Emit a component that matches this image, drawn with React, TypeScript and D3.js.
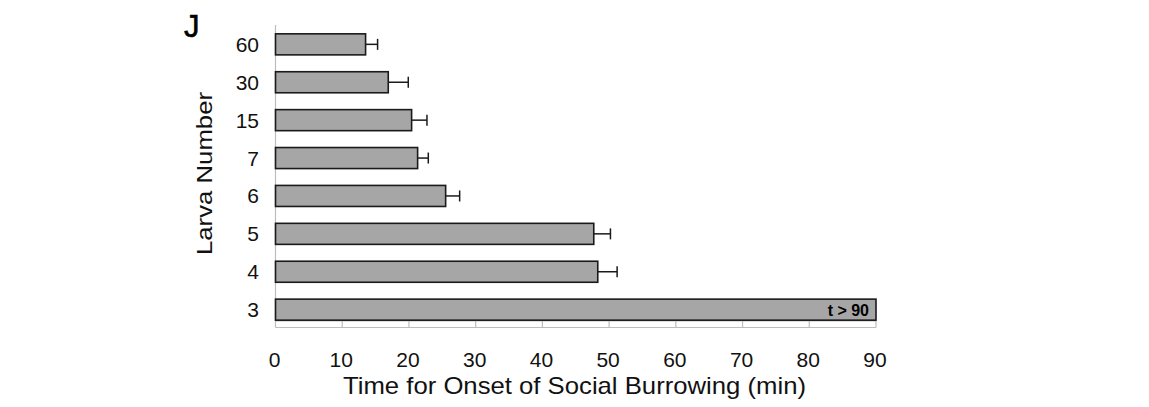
import React from "react";
import * as d3 from "d3";

const categories = ["60", "30", "15", "7", "6", "5", "4", "3"];
const meanValues = [13.5, 16.9, 20.4, 21.3, 25.5, 47.7, 48.3, 90];
const errorValues = [1.8, 3.0, 2.3, 1.6, 2.1, 2.5, 2.9, 0];
const xTicks = [0, 10, 20, 30, 40, 50, 60, 70, 80, 90];
const panelLabel = "J";
const xTitle = "Time for Onset of Social Burrowing (min)";
const yTitle = "Larva Number";
const censoredLabel = "t > 90";

const W = 1149;
const H = 407;
const FONT = "'Liberation Sans', Arial, sans-serif";

export default function App() {
  const x = d3.scaleLinear().domain([0, 90]).range([275.5, 876]);
  const y = d3
    .scaleBand<string>()
    .domain(categories)
    .range([25.4, 328.6])
    .paddingInner(0.445)
    .paddingOuter(0.2225);
  const axisY = 321;
  const axisColor = "#bdbdbd";

  return (
    <svg
      width={W}
      height={H}
      style={{ position: "absolute", left: 0, top: 0, background: "#fff" }}
      fontFamily={FONT}
    >
      {/* panel label */}
      <text x={184} y={37} fontSize={31} fontWeight={400} fill="#000" stroke="#000" strokeWidth={0.6}>
        {panelLabel}
      </text>

      {/* y axis line */}
      <line x1={x(0)} x2={x(0)} y1={25} y2={axisY} stroke={axisColor} strokeWidth={1.2} />

      {/* x axis lines and ticks */}
      <line x1={x(0)} x2={x(90)} y1={axisY} y2={axisY} stroke={axisColor} strokeWidth={1.2} />
      <line x1={x(0)} x2={x(90)} y1={axisY + 6.5} y2={axisY + 6.5} stroke={axisColor} strokeWidth={1.2} />
      {xTicks.map((t) => (
        <line key={"tk" + t} x1={x(t)} x2={x(t)} y1={axisY} y2={axisY + 6.5} stroke={axisColor} strokeWidth={1.2} />
      ))}
      {xTicks.map((t) => (
        <text key={"tl" + t} x={x(t) - 1} y={367} fontSize={21} textAnchor="middle" fill="#111">
          {t}
        </text>
      ))}

      {/* bars */}
      {categories.map((c, i) => {
        const y0 = y(c)!;
        const bh = y.bandwidth();
        const cy = y0 + bh / 2;
        const v = meanValues[i];
        const e = errorValues[i];
        return (
          <g key={c}>
            <rect
              x={x(0)}
              y={y0}
              width={x(v) - x(0)}
              height={bh}
              fill="#a6a6a6"
              stroke="#1a1a1a"
              strokeWidth={1.6}
            />
            {e > 0 && (
              <g stroke="#1a1a1a" strokeWidth={1.5}>
                <line x1={x(v)} x2={x(v + e)} y1={cy} y2={cy} />
                <line x1={x(v + e)} x2={x(v + e)} y1={cy - 5.5} y2={cy + 5.5} />
              </g>
            )}
            <text x={259} y={cy + 7.5} fontSize={21} textAnchor="end" fill="#111">
              {c}
            </text>
          </g>
        );
      })}

      {/* censored label */}
      <text
        x={x(90) - 7}
        y={y("3")! + y.bandwidth() / 2 + 6}
        fontSize={16}
        fontWeight="bold"
        textAnchor="end"
        fill="#000"
      >
        {censoredLabel}
      </text>

      {/* x title */}
      <text
        x={343}
        y={394}
        fontSize={24}
        fill="#111"
        textLength={463}
        lengthAdjust="spacingAndGlyphs"
      >
        {xTitle}
      </text>

      {/* y title */}
      <text
        transform="translate(212,255) rotate(-90)"
        x={0}
        y={0}
        fontSize={22}
        fill="#111"
        textLength={163}
        lengthAdjust="spacingAndGlyphs"
      >
        {yTitle}
      </text>
    </svg>
  );
}
